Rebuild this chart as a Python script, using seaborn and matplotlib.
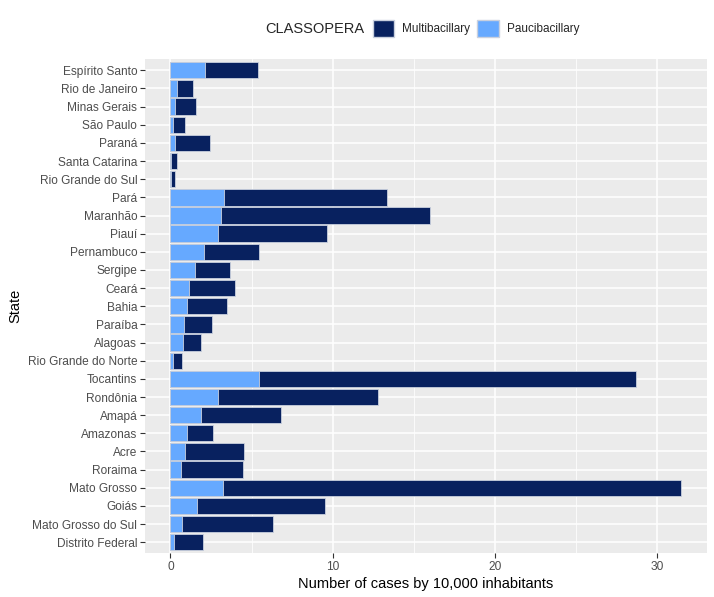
import pandas as pd
import matplotlib.pyplot as plt
import seaborn as sns
from matplotlib.patches import Patch

# Data (cases per 10,000 inhabitants)
states = ['Espírito Santo', 'Rio de Janeiro', 'Minas Gerais', 'São Paulo', 'Paraná',
          'Santa Catarina', 'Rio Grande do Sul', 'Pará', 'Maranhão', 'Piauí',
          'Pernambuco', 'Sergipe', 'Ceará', 'Bahia', 'Paraíba', 'Alagoas',
          'Rio Grande do Norte', 'Tocantins', 'Rondônia', 'Amapá', 'Amazonas',
          'Acre', 'Roraima', 'Mato Grosso', 'Goiás', 'Mato Grosso do Sul',
          'Distrito Federal']
pauci = [2.15, 0.41, 0.29, 0.17, 0.29, 0.03, 0.02, 3.27, 3.09, 2.90,
         2.09, 1.53, 1.16, 1.04, 0.85, 0.79, 0.17, 5.47, 2.94, 1.91,
         0.99, 0.91, 0.66, 3.25, 1.65, 0.74, 0.23]
multi = [3.27, 1.00, 1.26, 0.74, 2.13, 0.38, 0.27, 10.08, 12.91, 6.73,
         3.38, 2.13, 2.82, 2.44, 1.68, 1.12, 0.51, 23.23, 9.84, 4.88,
         1.66, 3.60, 3.78, 28.23, 7.85, 5.56, 1.75]

df = pd.DataFrame({'State': states, 'Paucibacillary': pauci, 'Multibacillary': multi})
df['Total'] = df['Paucibacillary'] + df['Multibacillary']

dark = '#08215F'
light = '#66A9FF'
edge = '#C9D0DE'

sns.set_theme(style='darkgrid', rc={
    'axes.facecolor': '#EBEBEB',
    'grid.color': 'white',
    'axes.edgecolor': 'none',
    'xtick.color': '#333333',
    'ytick.color': '#333333',
    'xtick.bottom': True,
    'ytick.left': True,
    'xtick.major.size': 3.5,
    'ytick.major.size': 3.5,
    'xtick.major.width': 0.8,
    'ytick.major.width': 0.8,
})
plt.rcParams['font.family'] = ['Liberation Sans', 'DejaVu Sans']

fig = plt.figure(figsize=(7.14, 5.97), dpi=100)
ax = fig.add_axes([0.203, 0.0735, 0.787, 0.827])

sns.barplot(data=df, x='Total', y='State', orient='h', color=dark, width=0.9,
            saturation=1, edgecolor=edge, linewidth=0.6, ax=ax)
sns.barplot(data=df, x='Paucibacillary', y='State', orient='h', color=light, width=0.9,
            saturation=1, edgecolor=edge, linewidth=0.6, ax=ax)

xmax = df['Total'].max()
ax.set_xlim(-0.05 * xmax, xmax * 1.05)
ax.set_ylim(len(states) - 0.4, -0.6)
ax.set_xticks([0, 10, 20, 30])
ax.set_xticks([5, 15, 25], minor=True)
ax.grid(True, which='major', color='white', linewidth=1.1)
ax.grid(True, which='minor', axis='x', color='white', linewidth=0.55)
ax.tick_params(axis='x', which='minor', bottom=False)
ax.tick_params(axis='both', labelsize=8.6, labelcolor='#4D4D4D', pad=2)
ax.set_axisbelow(True)

ax.set_xlabel('Number of cases by 10,000 inhabitants', fontsize=10.5, color='black', labelpad=3)
ax.set_ylabel('State', fontsize=10.5, color='black', labelpad=4)

# legend on top, title to the left of the keys
fig.text(0.371, 0.952, 'CLASSOPERA', fontsize=10.5, va='center', ha='left')
handles = [Patch(facecolor=dark, edgecolor=edge, label='Multibacillary'),
           Patch(facecolor=light, edgecolor=edge, label='Paucibacillary')]
fig.legend(handles=handles, loc='center left', bbox_to_anchor=(0.522, 0.952), ncol=2,
           frameon=False, fontsize=8.5, handlelength=1.8, handleheight=1.8,
           handletextpad=0.7, columnspacing=0.6, borderaxespad=0, borderpad=0)

fig.savefig('out.png', dpi=100)
